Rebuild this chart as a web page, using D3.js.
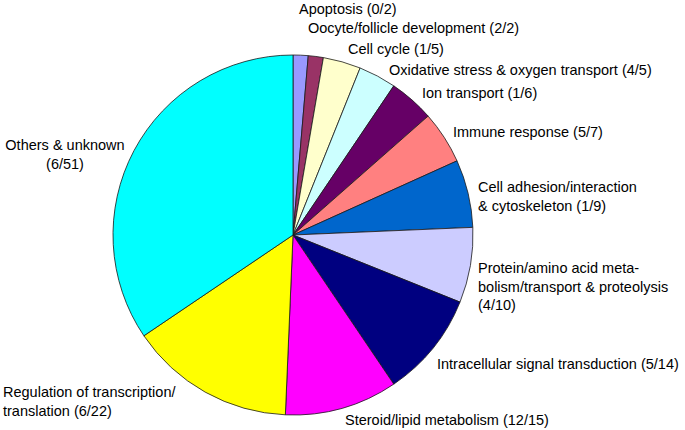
<!DOCTYPE html>
<html>
<head>
<meta charset="utf-8">
<script src="https://cdn.jsdelivr.net/npm/d3@7"></script>
<style>
  body { margin: 0; background: #fff; }
  text { font-family: "Liberation Sans", Arial, sans-serif; font-size: 14.5px; fill: #000; }
</style>
</head>
<body>
<div id="chart"></div>
<script>
// categories (clockwise from 12 o'clock), gene counts and hits
var categories = ["Apoptosis", "Oocyte/follicle development", "Cell cycle",
  "Oxidative stress & oxygen transport", "Ion transport", "Immune response",
  "Cell adhesion/interaction & cytoskeleton",
  "Protein/amino acid metabolism/transport & proteolysis",
  "Intracellular signal transduction", "Steroid/lipid metabolism",
  "Regulation of transcription/translation", "Others & unknown"];
var totals = [2, 2, 5, 5, 6, 7, 9, 10, 14, 15, 22, 51];
var hits   = [0, 2, 1, 4, 1, 5, 1, 4, 5, 12, 6, 6];

var colors = ["#9999ff", "#993366", "#ffffcc", "#ccffff", "#660066", "#ff8080",
  "#0066cc", "#ccccff", "#000080", "#ff00ff", "#ffff00", "#00ffff"];

// label placement: lines of text, anchor, x, first baseline
var labelLayout = [
  {lines: ["Apoptosis (0/2)"], x: 299, y: 14, anchor: "start"},
  {lines: ["Oocyte/follicle development (2/2)"], x: 308, y: 33, anchor: "start"},
  {lines: ["Cell cycle (1/5)"], x: 348, y: 54, anchor: "start"},
  {lines: ["Oxidative stress & oxygen transport (4/5)"], x: 389, y: 75, anchor: "start"},
  {lines: ["Ion transport (1/6)"], x: 422, y: 98, anchor: "start"},
  {lines: ["Immune response (5/7)"], x: 453, y: 137, anchor: "start"},
  {lines: ["Cell adhesion/interaction", "& cytoskeleton (1/9)"], x: 478, y: 192, anchor: "start"},
  {lines: ["Protein/amino acid meta-", "bolism/transport & proteolysis", "(4/10)"], x: 478, y: 273, anchor: "start"},
  {lines: ["Intracellular signal transduction (5/14)"], x: 437, y: 369, anchor: "start"},
  {lines: ["Steroid/lipid metabolism (12/15)"], x: 345, y: 425, anchor: "start"},
  {lines: ["Regulation of transcription/", "translation (6/22)"], x: 3, y: 397, anchor: "start"},
  {lines: ["Others & unknown", "(6/51)"], x: 65, y: 150, anchor: "middle"}
];

var width = 685, height = 430,
    cx = 293, cy = 235, radius = 180;

var svg = d3.select("#chart")
  .append("svg")
    .attr("width", width)
    .attr("height", height);

var data = categories.map(function(c, i) {
  return {name: c, total: totals[i], hit: hits[i], color: colors[i]};
});

var pie = d3.pie()
  .sort(null)
  .value(function(d) { return d.total; });

var arc = d3.arc()
  .innerRadius(0)
  .outerRadius(radius);

var g = svg.append("g")
  .attr("transform", "translate(" + cx + "," + cy + ")");

g.selectAll("path")
  .data(pie(data))
  .enter()
  .append("path")
    .attr("d", arc)
    .attr("fill", function(d) { return d.data.color; })
    .attr("stroke", "#1a1a1a")
    .attr("stroke-width", 0.8);

// labels
var labels = svg.selectAll("text.lbl")
  .data(labelLayout)
  .enter()
  .append("text")
    .attr("class", "lbl")
    .attr("text-anchor", function(d) { return d.anchor; });

labels.selectAll("tspan")
  .data(function(d) { return d.lines.map(function(l, j) { return {t: l, x: d.x, y: d.y + j * 18.5}; }); })
  .enter()
  .append("tspan")
    .attr("x", function(d) { return d.x; })
    .attr("y", function(d) { return d.y; })
    .text(function(d) { return d.t; });
</script>
</body>
</html>
